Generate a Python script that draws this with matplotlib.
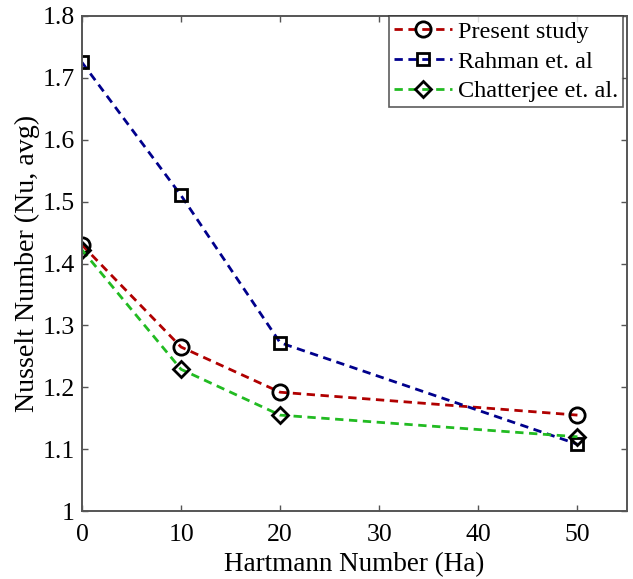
import matplotlib
matplotlib.use("Agg")
import matplotlib.pyplot as plt

ha = [0, 10, 20, 50]
present = [1.430, 1.265, 1.192, 1.155]
rahman = [1.725, 1.510, 1.272, 1.108]
chatterjee = [1.422, 1.229, 1.155, 1.120]

plt.rcParams['font.family'] = ['Liberation Serif', 'DejaVu Serif']

fig = plt.figure(figsize=(6.33, 5.79), dpi=100)
ax = fig.add_axes([0.1295, 0.1174, 0.861, 0.855])

common = dict(linestyle=(0, (3.0, 2.0)), linewidth=2.0, markerfacecolor='none',
              markeredgecolor='black', markeredgewidth=2.0)
ax.plot(ha, present, color='#b00000', marker='o', markersize=11, label='Present study', **common)
ax.plot(ha, rahman, color='#00008c', marker='s', markersize=9, label='Rahman et. al', **common)
ax.plot(ha, chatterjee, color='#22bb22', marker='D', markersize=8.5, label='Chatterjee et. al.', **common)

ax.set_xlim(0, 55)
ax.set_ylim(1.0, 1.8)
ax.set_xticks([0, 10, 20, 30, 40, 50])
ax.set_yticks([1.0, 1.1, 1.2, 1.3, 1.4, 1.5, 1.6, 1.7, 1.8])
ax.set_yticklabels(['1', '1.1', '1.2', '1.3', '1.4', '1.5', '1.6', '1.7', '1.8'])
ax.tick_params(direction='in', top=True, right=True, labelsize=18.5, length=4,
               width=1, color='#555555')
ax.tick_params(axis='x', pad=9.5)
ax.tick_params(axis='y', pad=5)
for s in ax.spines.values():
    s.set_color('#555555')
    s.set_linewidth(1.4)

ax.set_xlabel('Hartmann Number (Ha)', fontsize=19.5, labelpad=4)
ax.set_ylabel('Nusselt Number (Nu, avg)', fontsize=20.2, labelpad=2)

leg = ax.legend(loc='upper right', fontsize=17.5, frameon=True, fancybox=False,
                edgecolor='#333333', handlelength=2.4, handletextpad=0.25,
                borderpad=0.2, labelspacing=0.32, borderaxespad=0.0,
                bbox_to_anchor=(0.993, 1.0))
leg.get_frame().set_linewidth(1.2)

fig.savefig('out.png', dpi=100)
